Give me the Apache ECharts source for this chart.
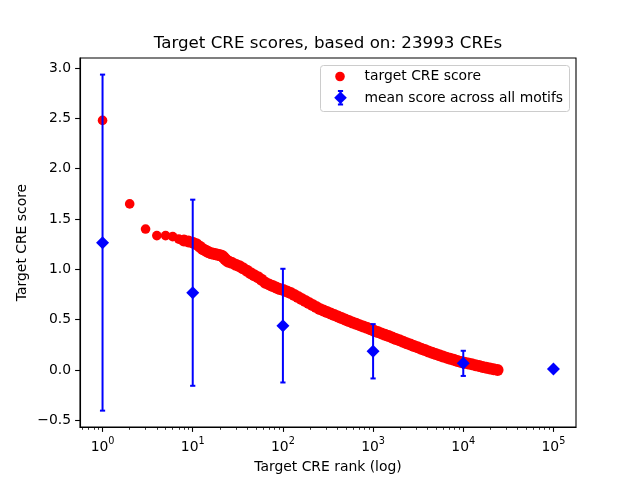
<!DOCTYPE html>
<html>
<head>
<meta charset="utf-8">
<script src="https://cdn.jsdelivr.net/npm/echarts@6/dist/echarts.min.js"></script>
<style>html,body{margin:0;padding:0;background:#fff}#c{width:640px;height:480px}</style>
</head>
<body>
<div id="c"></div>
<script>
// ---- data ----
const ranks = [1,2,3,4,5,6,7,8,9,10,11,12,13,14,15,16,17,18,19,20,21,22,23,24,25,
  27,30,33,36,40,44,48,53,58,64,70,77,84,92,101,111,122,134,147,161,177,194,213,234,256,
  281,308,338,371,407,446,489,537,589,646,708,777,852,935,1025,1125,1234,1353,1484,1628,
  1786,1959,2149,2357,2586,2836,3111,3413,3744,4107,4505,4942,5421,5946,6523,7155,7849,
  8610,9444,10360,11364,12466,13674,15000,16454,18049,19799,21718,23993];
const scores = [2.48,1.65,1.40,1.335,1.335,1.325,1.30,1.285,1.275,1.265,1.25,1.225,1.20,1.185,1.17,1.16,1.155,1.15,1.145,1.14,1.135,1.12,1.10,1.085,1.075,
  1.065,1.045,1.03,1.01,0.985,0.96,0.94,0.92,0.895,0.865,0.85,0.835,0.82,0.805,0.795,0.78,0.765,0.745,0.725,0.705,0.685,0.665,0.645,0.625,0.605,
  0.59,0.575,0.56,0.545,0.53,0.515,0.50,0.485,0.47,0.458,0.445,0.432,0.42,0.405,0.39,0.377,0.363,0.35,0.336,0.322,
  0.308,0.294,0.28,0.266,0.252,0.238,0.224,0.21,0.197,0.184,0.171,0.158,0.146,0.134,0.122,0.111,0.10,
  0.089,0.079,0.07,0.063,0.055,0.046,0.038,0.03,0.022,0.014,0.007,0.0];
const meanRanks = [1,10,100,1000,10000,100000];
const meanScores = [1.265,0.767,0.44,0.185,0.065,0.008];
const meanErr = [1.67,0.925,0.565,0.27,0.125,0.0];
const xTicks = [1,10,100,1000,10000,100000];
const xMinorTicks = [0.6,0.7,0.8,0.9,2,3,4,5,6,7,8,9,20,30,40,50,60,70,80,90,
  200,300,400,500,600,700,800,900,2000,3000,4000,5000,6000,7000,8000,9000,
  20000,30000,40000,50000,60000,70000,80000,90000];
const yTicks = [-0.5,0,0.5,1.0,1.5,2.0,2.5,3.0];
const titleText = 'Target CRE scores, based on: 23993 CREs';
const xName = 'Target CRE rank (log)';
const yName = 'Target CRE score';
const legendNames = ['target CRE score','mean score across all motifs'];

// ---- chart ----
const FONT = 'DejaVu Sans';
const chart = echarts.init(document.getElementById('c'), null, {renderer:'canvas'});
const redData = ranks.map((r,i)=>[r, scores[i]]);
const meanData = meanRanks.map((r,i)=>[r, meanScores[i]]);
const errData = meanRanks.map((r,i)=>[r, meanScores[i]-meanErr[i], meanScores[i]+meanErr[i]]);

const option = {
  animation: false,
  backgroundColor: '#fff',
  title: {
    text: titleText, left: 328, top: 35, textAlign: 'center', padding: 0,
    textStyle: {fontFamily: FONT, fontSize: 16.7, fontWeight: 'normal', color: '#000'}
  },
  grid: {left: 80, right: 64, top: 58, bottom: 53, show: true, borderColor: '#000', borderWidth: 1.1, backgroundColor: 'transparent'},
  xAxis: [{
    type: 'log', logBase: 10, min: Math.pow(10,-0.25), max: Math.pow(10,5.25),
    name: xName, nameLocation: 'middle', nameGap: 33, nameMoveOverlap: false,
    nameTextStyle: {fontFamily: FONT, fontSize: 13.9, color: '#000'},
    axisLine: {show: true, onZero: false, lineStyle: {color: '#000', width: 1.1}},
    axisTick: {show: true, length: 4.9, lineStyle: {color: '#000', width: 1.1}, customValues: xTicks},
    axisLabel: {
      customValues: xTicks, margin: 9, color: '#000',
      formatter: function(v){ const e = Math.round(Math.log10(v)); return '{b|10}{s|' + e + '}'; },
      rich: {
        b: {fontFamily: FONT, fontSize: 13.9, color: '#000', lineHeight: 18, verticalAlign: 'bottom'},
        s: {fontFamily: FONT, fontSize: 9.7, color: '#000', lineHeight: 18, verticalAlign: 'top'}
      }
    },
    splitLine: {show: false}
  },{
    type: 'log', logBase: 10, min: Math.pow(10,-0.25), max: Math.pow(10,5.25), position: 'bottom',
    axisLine: {show: false, onZero: false},
    axisTick: {show: true, length: 2.8, lineStyle: {color: '#000', width: 0.8}, customValues: xMinorTicks},
    axisLabel: {show: false},
    splitLine: {show: false}
  }],
  yAxis: {
    type: 'value', min: -0.5675, max: 3.1,
    name: yName, nameLocation: 'middle', nameGap: 51, nameMoveOverlap: false,
    nameTextStyle: {fontFamily: FONT, fontSize: 13.9, color: '#000'},
    axisLine: {show: true, onZero: false, lineStyle: {color: '#000', width: 1.1}},
    axisTick: {show: true, length: 4.9, lineStyle: {color: '#000', width: 1.1}, customValues: yTicks},
    axisLabel: {
      customValues: yTicks, margin: 9, color: '#000', fontFamily: FONT, fontSize: 13.9,
      formatter: function(v){ const s = Math.abs(v).toFixed(1); return v < 0 ? '\u2212' + s : s; }
    },
    splitLine: {show: false}
  },
  series: [{
    name: legendNames[0], type: 'scatter', data: redData, symbol: 'circle',
    // dense, overlapping region of the reference reads as a wider band
    symbolSize: function(v){ return v[0] >= 8 ? 12 : 9.6; },
    itemStyle: {color: '#ff0000', opacity: 1}, z: 2
  },{
    name: legendNames[1] + ' err', type: 'custom', data: errData, z: 3,
    encode: {x: 0, y: [1,2]},
    renderItem: function(params, api){
      const x = api.value(0), lo = api.value(1), hi = api.value(2);
      const p1 = api.coord([x, lo]), p2 = api.coord([x, hi]);
      const cw = 2.6;
      const st = {stroke: '#0000ff', lineWidth: 2};
      return {type: 'group', children: [
        {type:'line', shape:{x1:p1[0], y1:p1[1], x2:p2[0], y2:p2[1]}, style: st},
        {type:'line', shape:{x1:p1[0]-cw, y1:p1[1], x2:p1[0]+cw, y2:p1[1]}, style: st},
        {type:'line', shape:{x1:p2[0]-cw, y1:p2[1], x2:p2[0]+cw, y2:p2[1]}, style: st}
      ]};
    }
  },{
    name: legendNames[1], type: 'scatter', data: meanData, symbol: 'diamond', symbolSize: 13,
    itemStyle: {color: '#0000ff', opacity: 1}, z: 4
  }],
  graphic: [{
    type: 'group', left: 320, top: 65, z: 100, children: [
      {type:'rect', shape:{x:0, y:0, width:249, height:46, r:3}, style:{fill:'rgba(255,255,255,0.8)', stroke:'#cccccc', lineWidth:1}},
      {type:'circle', shape:{cx:19.5, cy:11, r:4.8}, style:{fill:'#ff0000'}},
      {type:'text', x:44, y:11, style:{text: legendNames[0], fontFamily: FONT, fontSize: 13.9, fill:'#000', verticalAlign:'middle', align:'left'}},
      {type:'line', shape:{x1:20, y1:25.5, x2:20, y2:39}, style:{stroke:'#0000ff', lineWidth:2}},
      {type:'line', shape:{x1:17.4, y1:25.5, x2:22.6, y2:25.5}, style:{stroke:'#0000ff', lineWidth:2}},
      {type:'line', shape:{x1:17.4, y1:39, x2:22.6, y2:39}, style:{stroke:'#0000ff', lineWidth:2}},
      {type:'polygon', shape:{points:[[20,26],[26.3,32.3],[20,38.6],[13.7,32.3]]}, style:{fill:'#0000ff'}},
      {type:'text', x:44, y:32.5, style:{text: legendNames[1], fontFamily: FONT, fontSize: 13.9, fill:'#000', verticalAlign:'middle', align:'left'}}
    ]
  }]
};
chart.setOption(option);
</script>
</body>
</html>
